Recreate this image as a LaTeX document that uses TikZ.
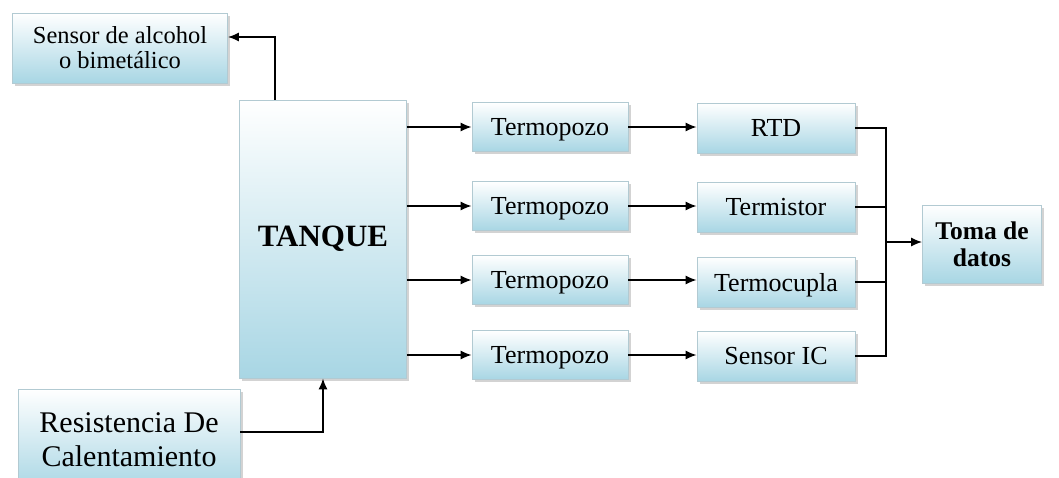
\documentclass[tikz,border=0pt]{standalone}
\usepackage{fontspec}
\setmainfont{Liberation Serif}
\usetikzlibrary{arrows.meta,shadows,calc}
\definecolor{boxblue}{RGB}{168,214,228}
\definecolor{boxedge}{RGB}{178,202,210}
\begin{document}
\begin{tikzpicture}[x=1pt,y=-1pt,
  blk/.style={draw=boxedge,line width=0.8pt,top color=white,bottom color=boxblue,
    drop shadow={opacity=0.35,shadow xshift=2.5pt,shadow yshift=-2.5pt},
    inner sep=0pt,align=center,font=\fontsize{26}{28}\selectfont},
  small/.style={blk,text depth=0pt},
  arr/.style={line width=1.4pt,-{Latex[length=11pt,width=9pt]}},
  ln/.style={line width=1.4pt}]
\useasboundingbox (0,0) rectangle (1059,477);
\clip (0,0) rectangle (1059,477);
\node[blk,minimum width=215pt,minimum height=70pt,font=\fontsize{24.5}{25}\selectfont] (sensor) at (120,48) {Sensor de alcohol\\o bimetálico};
\node[blk,minimum width=167pt,minimum height=278pt,font=\fontsize{31}{33}\selectfont\bfseries] (tank) at (323,239) {TANQUE};
\node[blk,minimum width=222pt,minimum height=102pt,font=\fontsize{30}{34}\selectfont] (res) at (129,440) {Resistencia De\\Calentamiento};
\node[small,minimum width=156pt,minimum height=49pt] (t1) at (550,127) {Termopozo};
\node[small,minimum width=156pt,minimum height=49pt] (t2) at (550,206) {Termopozo};
\node[small,minimum width=156pt,minimum height=49pt] (t3) at (550,280) {Termopozo};
\node[small,minimum width=156pt,minimum height=49pt] (t4) at (550,355) {Termopozo};
\node[small,minimum width=158pt,minimum height=50pt] (s1) at (776,128) {RTD};
\node[small,minimum width=158pt,minimum height=50pt] (s2) at (776,207) {Termistor};
\node[small,minimum width=158pt,minimum height=50pt] (s3) at (776,282) {Termocupla};
\node[small,minimum width=158pt,minimum height=50pt] (s4) at (776,356) {Sensor IC};
\node[blk,minimum width=119pt,minimum height=78pt,font=\fontsize{25.5}{27}\selectfont\bfseries] (toma) at (982,244) {Toma de\\datos};
\coordinate (bus) at (886,0);
% tank to sensor
\draw[arr] ($(tank.north)+(-48,0)$) |- ($(sensor.east)+(0,-11)$);
\draw[arr] ($(res.east)+(0,-8)$) -| (tank.south);
\foreach \i in {1,2,3,4}{
  \draw[arr] (tank.east |- t\i.west) -- (t\i.west);
  \draw[arr] (t\i.east) -- (t\i.east -| s\i.west);
}
\draw[ln] (s1.east) -- (s1.east -| bus) -- (s4.east -| bus) -- (s4.east);
\draw[ln] (s2.east) -- (s2.east -| bus);
\draw[ln] (s3.east) -- (s3.east -| bus);
\draw[arr] ($(toma.west -| bus)+(0,-2)$) -- ($(toma.west)+(0,-2)$);
\end{tikzpicture}
\end{document}
